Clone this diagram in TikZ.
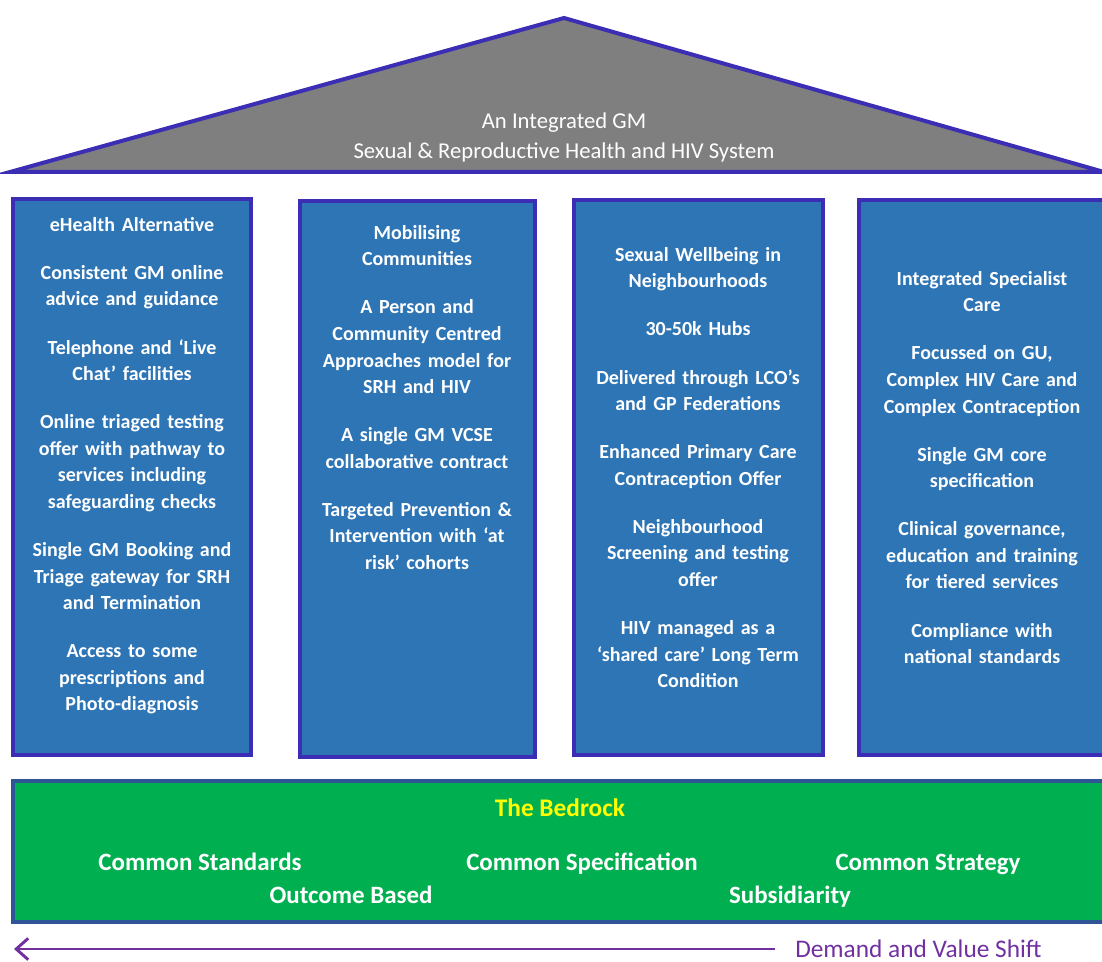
\documentclass[tikz,border=0pt]{standalone}
\usepackage{fontspec}
\setmainfont{Carlito}
\usepackage{tikz}
\usetikzlibrary{arrows.meta}

\definecolor{roofgray}{RGB}{127,127,127}
\definecolor{edgeblue}{RGB}{60,46,180}
\definecolor{pillarblue}{RGB}{46,117,182}
\definecolor{bedgreen}{RGB}{0,176,80}
\definecolor{bededge}{RGB}{47,85,151}
\definecolor{shiftpurple}{RGB}{112,48,160}

\tikzset{
  pillar/.style={draw=edgeblue, fill=pillarblue, line width=3.5pt},
  pillartext/.style={anchor=north, text width=172pt, align=center, text=white, inner sep=0pt,
    font=\fontsize{15}{19.9}\selectfont\bfseries},
  bedtext/.style={anchor=base, text=white, inner sep=0pt, font=\fontsize{18.7}{22}\selectfont\bfseries},
}
\newcommand{\pgap}{\\[16.2pt]}

\begin{document}
\begin{tikzpicture}[x=0.75pt,y=0.75pt,yscale=-1,xscale=1]
\useasboundingbox (0,0) rectangle (1102,962);

%Shape: Triangle [roof]
\draw [draw=edgeblue, fill=roofgray, line width=3pt, line join=miter] (10,172) -- (564,18) -- (1104,172) -- cycle ;
% Text Node
\node (roof) [text=white, align=center, inner sep=0pt, font=\fontsize{17}{22.5}\selectfont] at (564,137)
  {An Integrated GM\\Sexual \& Reproductive Health and HIV System};

%Shape: Rectangle [pillars]
\draw [pillar] (13,199) rectangle (251,755) ;
\draw [pillar] (300,201) rectangle (535,757) ;
\draw [pillar] (574,200) rectangle (823,755) ;
\draw [pillar] (859,200) rectangle (1112,755) ;

% Text Node
\node (ehealth) [pillartext] at (132,217)
  {eHealth Alternative\pgap
   Consistent GM online\\advice and guidance\pgap
   Telephone and ‘Live\\Chat’ facilities\pgap
   Online triaged testing\\offer with pathway to\\services including\\safeguarding checks\pgap
   Single GM Booking and\\Triage gateway for SRH\\and Termination\pgap
   Access to some\\prescriptions and\\Photo-diagnosis};
% Text Node
\node (mobilising) [pillartext] at (417,225)
  {Mobilising\\Communities\pgap
   A Person and\\Community Centred\\Approaches model for\\SRH and HIV\pgap
   A single GM VCSE\\collaborative contract\pgap
   Targeted Prevention \&\\Intervention with ‘at\\risk’ cohorts};
% Text Node
\node (wellbeing) [pillartext] at (698,247)
  {Sexual Wellbeing in\\Neighbourhoods\pgap
   30-50k Hubs\pgap
   Delivered through LCO’s\\and GP Federations\pgap
   Enhanced Primary Care\\Contraception Offer\pgap
   Neighbourhood\\Screening and testing\\offer\pgap
   HIV managed as a\\‘shared care’ Long Term\\Condition};
% Text Node
\node (specialist) [pillartext] at (982,271)
  {Integrated Specialist\\Care\pgap
   Focussed on GU,\\Complex HIV Care and\\Complex Contraception\pgap
   Single GM core\\specification\pgap
   Clinical governance,\\education and training\\for tiered services\pgap
   Compliance with\\national standards};

%Shape: Rectangle [bedrock]
\draw [draw=bededge, fill=bedgreen, line width=3pt] (13,781) rectangle (1112,922) ;
% Text Node
\node (bedrock) [anchor=base, text={rgb,255:red,255;green,255;blue,0}, inner sep=0pt, font=\fontsize{19}{22}\selectfont\bfseries] at (560,816) {The Bedrock};
\node (standards) [bedtext] at (200,870) {Common Standards};
\node (specification) [bedtext] at (582,870) {Common Specification};
\node (strategy) [bedtext] at (928,870) {Common Strategy};
\node (outcome) [bedtext] at (351,903) {Outcome Based};
\node (subsidiarity) [bedtext] at (790,903) {Subsidiarity};

% Text Node
\node (shift) [anchor=west, text=shiftpurple, inner sep=0pt, font=\fontsize{19}{22}\selectfont] at (795,949) {Demand and Value Shift};
\coordinate (shiftend) at (14,953);
%Straight Lines [shift arrow]
\draw [draw=shiftpurple, line width=2.2pt, -{Straight Barb[length=9pt,width=16pt,line width=2.2pt]}] ([xshift=-15pt]shift.west) -- (shift.west -| shiftend) ;
\end{tikzpicture}
\end{document}
